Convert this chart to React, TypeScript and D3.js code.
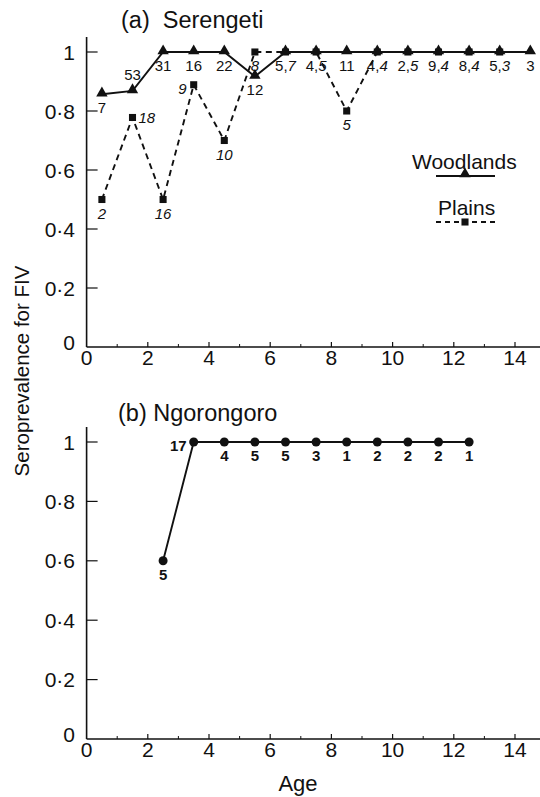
import React, { useEffect, useRef } from 'react';
import * as d3 from 'd3';

// Serengeti woodlands (triangles, solid)
const woodAges = [0.5, 1.5, 2.5, 3.5, 4.5, 5.5, 6.5, 7.5, 8.5, 9.5, 10.5, 11.5, 12.5, 13.5, 14.5];
const woodPrev = [0.857, 0.868, 1, 1, 1, 0.917, 1, 1, 1, 1, 1, 1, 1, 1, 1];
const woodN = [7, 53, 31, 16, 22, 12, 5, 4, 11, 4, 2, 9, 8, 5, 3];

// Serengeti plains (squares, dashed)
const plainAges = [0.5, 1.5, 2.5, 3.5, 4.5, 5.5, 6.5, 7.5, 8.5, 9.5, 10.5, 11.5, 12.5, 13.5];
const plainPrev = [0.5, 0.778, 0.5, 0.889, 0.7, 1, 1, 1, 0.8, 1, 1, 1, 1, 1];
const plainN = [2, 18, 16, 9, 10, 8, 7, 5, 5, 4, 5, 4, 4, 3];

// Ngorongoro (circles)
const ngoroAges = [2.5, 3.5, 4.5, 5.5, 6.5, 7.5, 8.5, 9.5, 10.5, 11.5, 12.5];
const ngoroPrev = [0.6, 1, 1, 1, 1, 1, 1, 1, 1, 1, 1];
const ngoroN = [5, 17, 4, 5, 5, 3, 1, 2, 2, 2, 1];

const yTicks = [0, 0.2, 0.4, 0.6, 0.8, 1];
const xTicks = [0, 2, 4, 6, 8, 10, 12, 14];
const xMinor = [1, 3, 5, 7, 9, 11, 13];

// label placement overrides (default is below the point)
const woodPlace: Record<number, string> = { 1: 'above' };
const plainPlace: Record<number, string> = { 1: 'right', 3: 'left' };
const ngoroPlace: Record<number, string> = { 1: 'left' };

const FONT = "'Liberation Sans', Arial, Helvetica, sans-serif";

const App: React.FC = () => {
  const ref = useRef<SVGSVGElement | null>(null);

  useEffect(() => {
    if (!ref.current) return;
    const svg = d3.select(ref.current);
    svg.selectAll('*').remove();

    const x = d3.scaleLinear().domain([0, 15]).range([86.6, 86.6 + 15 * 30.6]);
    const fmt = (v: number) => (v === 0 ? '0' : v === 1 ? '1' : d3.format('.1f')(v).replace('.', '\u00B7'));

    const drawAxes = (y: d3.ScaleLinear<number, number>, top: number) => {
      const g = svg.append('g');
      const y0 = y(0);
      // frame
      g.append('line').attr('x1', x(0)).attr('x2', 540).attr('y1', y0).attr('y2', y0)
        .attr('stroke', '#111').attr('stroke-width', 1.6);
      g.append('line').attr('x1', x(0)).attr('x2', x(0)).attr('y1', top).attr('y2', y0)
        .attr('stroke', '#111').attr('stroke-width', 1.6);
      // y ticks
      yTicks.filter((t) => t > 0).forEach((t) => {
        g.append('line').attr('x1', x(0)).attr('x2', x(0) + 11).attr('y1', y(t)).attr('y2', y(t))
          .attr('stroke', '#111').attr('stroke-width', 1.2);
      });
      yTicks.forEach((t) => {
        g.append('text').attr('x', 75).attr('y', y(t) + (t === 0 ? -5 : 0))
          .attr('dy', '0.36em').attr('text-anchor', 'end')
          .attr('font-family', FONT).attr('font-size', 21).attr('fill', '#111').text(fmt(t));
      });
      // x ticks
      xTicks.forEach((t) => {
        if (t > 0) g.append('line').attr('x1', x(t)).attr('x2', x(t)).attr('y1', y0).attr('y2', y0 - 5)
          .attr('stroke', '#111').attr('stroke-width', 1.2);
        g.append('text').attr('x', x(t)).attr('y', y0 + 18).attr('text-anchor', 'middle')
          .attr('font-family', FONT).attr('font-size', 21).attr('fill', '#111').text(String(t));
      });
      xMinor.forEach((t) => {
        g.append('line').attr('x1', x(t)).attr('x2', x(t)).attr('y1', y0).attr('y2', y0 - 3)
          .attr('stroke', '#111').attr('stroke-width', 1);
      });
    };

    const placeLabel = (
      px: number, py: number, place: string | undefined,
    ): { x: number; y: number; anchor: string } => {
      if (place === 'above') return { x: px, y: py - 11, anchor: 'middle' };
      if (place === 'right') return { x: px + 6, y: py + 6, anchor: 'start' };
      if (place === 'left') return { x: px - 7, y: py + 9, anchor: 'end' };
      return { x: px, y: py + 19, anchor: 'middle' };
    };

    // ---------- panel (a) ----------
    const yA = d3.scaleLinear().domain([0, 1]).range([347, 52]);
    drawAxes(yA, 37);

    const line = (yS: d3.ScaleLinear<number, number>) =>
      d3.line<[number, number]>().x((d) => x(d[0])).y((d) => yS(d[1]));

    const plainPts = plainAges.map((a, i) => [a, plainPrev[i]] as [number, number]);
    const woodPts = woodAges.map((a, i) => [a, woodPrev[i]] as [number, number]);

    svg.append('path').attr('d', line(yA)(plainPts)).attr('fill', 'none')
      .attr('stroke', '#111').attr('stroke-width', 1.9).attr('stroke-dasharray', '6,4.5');
    svg.append('path').attr('d', line(yA)(woodPts)).attr('fill', 'none')
      .attr('stroke', '#111').attr('stroke-width', 1.9);

    const sq = d3.symbol().type(d3.symbolSquare).size(50);
    const tri = d3.symbol().type(d3.symbolTriangle).size(56);

    plainPts.forEach((p) => {
      svg.append('path').attr('d', sq()).attr('transform', `translate(${x(p[0])},${yA(p[1])})`).attr('fill', '#111');
    });
    woodPts.forEach((p) => {
      svg.append('path').attr('d', tri()).attr('transform', `translate(${x(p[0])},${yA(p[1]) - 1})`).attr('fill', '#111');
    });

    // sample size labels
    const labelFont = 15;
    woodAges.forEach((a, i) => {
      const pi = plainAges.indexOf(a);
      const combined = pi >= 0 && plainPrev[pi] === 1 && woodPrev[i] === 1 && i !== 5;
      const pos = placeLabel(x(a), yA(woodPrev[i]), woodPlace[i]);
      const t = svg.append('text').attr('x', pos.x).attr('y', pos.y).attr('text-anchor', pos.anchor)
        .attr('font-family', FONT).attr('font-size', labelFont).attr('fill', '#111');
      if (combined) {
        t.append('tspan').text(`${woodN[i]},`);
        t.append('tspan').attr('font-style', 'italic').text(String(plainN[pi]));
      } else {
        t.text(String(woodN[i]));
      }
    });
    plainAges.forEach((a, i) => {
      const wi = woodAges.indexOf(a);
      const combined = wi >= 0 && woodPrev[wi] === 1 && plainPrev[i] === 1 && wi !== 5;
      if (combined) return;
      const pos = placeLabel(x(a), yA(plainPrev[i]), plainPlace[i]);
      svg.append('text').attr('x', pos.x).attr('y', pos.y).attr('text-anchor', pos.anchor)
        .attr('font-family', FONT).attr('font-size', labelFont).attr('font-style', 'italic')
        .attr('fill', '#111').text(String(plainN[i]));
    });

    // legend
    const lg = svg.append('g').attr('font-family', FONT).attr('fill', '#111');
    lg.append('text').attr('x', 412).attr('y', 169).attr('font-size', 21).text('Woodlands');
    lg.append('line').attr('x1', 436).attr('x2', 495).attr('y1', 176).attr('y2', 176)
      .attr('stroke', '#111').attr('stroke-width', 1.8);
    lg.append('path').attr('d', tri()).attr('transform', 'translate(465,174)').attr('fill', '#111');
    lg.append('text').attr('x', 438).attr('y', 215).attr('font-size', 21).text('Plains');
    lg.append('line').attr('x1', 436).attr('x2', 497).attr('y1', 222).attr('y2', 222)
      .attr('stroke', '#111').attr('stroke-width', 1.8).attr('stroke-dasharray', '5,4');
    lg.append('path').attr('d', sq()).attr('transform', 'translate(465,222)').attr('fill', '#111');

    svg.append('text').attr('x', 121).attr('y', 28).attr('font-family', FONT).attr('font-size', 23.5)
      .attr('fill', '#111').attr('xml:space', 'preserve').text('(a)  Serengeti');

    // ---------- panel (b) ----------
    const yB = d3.scaleLinear().domain([0, 1]).range([739, 442]);
    drawAxes(yB, 427);

    const ngPts = ngoroAges.map((a, i) => [a, ngoroPrev[i]] as [number, number]);
    svg.append('path').attr('d', line(yB)(ngPts)).attr('fill', 'none')
      .attr('stroke', '#111').attr('stroke-width', 1.9);
    ngPts.forEach((p, i) => {
      svg.append('circle').attr('cx', x(p[0])).attr('cy', yB(p[1])).attr('r', 4.5).attr('fill', '#111');
      const pos = placeLabel(x(p[0]), yB(p[1]), ngoroPlace[i]);
      svg.append('text').attr('x', pos.x).attr('y', pos.y).attr('text-anchor', pos.anchor)
        .attr('font-family', FONT).attr('font-size', labelFont).attr('font-weight', 'bold')
        .attr('fill', '#111').text(String(ngoroN[i]));
    });

    svg.append('text').attr('x', 118).attr('y', 421).attr('font-family', FONT).attr('font-size', 23.5)
      .attr('fill', '#111').text('(b) Ngorongoro');

    // axis titles
    svg.append('text').attr('transform', 'translate(29,371) rotate(-90)').attr('text-anchor', 'middle')
      .attr('font-family', FONT).attr('font-size', 20.5).attr('fill', '#111').text('Seroprevalence for FIV');
    svg.append('text').attr('x', 298).attr('y', 791).attr('text-anchor', 'middle')
      .attr('font-family', FONT).attr('font-size', 22).attr('fill', '#111').text('Age');
  }, []);

  return (
    <svg
      ref={ref}
      width={540}
      height={797}
      style={{ position: 'absolute', left: 0, top: 0, background: '#fff' }}
    />
  );
};

export default App;
